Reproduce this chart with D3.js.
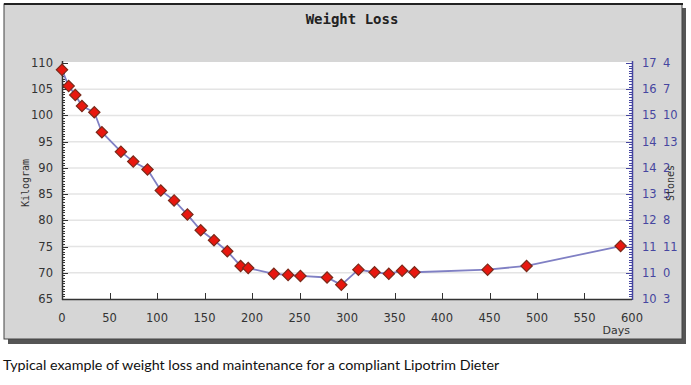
<!DOCTYPE html>
<html><head><meta charset="utf-8">
<script src="https://cdn.jsdelivr.net/npm/d3@7"></script>
<style>body{margin:0;background:#fff;} svg{display:block;}</style>
</head><body>
<svg id="c" width="691" height="385"></svg>
<script>
const days = [0,7,14,21,34,42,62,75,90,104,118,132,146,160,174,188,196,223,238,251,279,294,312,329,344,358,371,448,489,588];
const kilos = [108.7,105.6,103.9,101.8,100.6,96.8,93.1,91.2,89.7,85.7,83.8,81.1,78.1,76.2,74.1,71.3,70.9,69.8,69.6,69.4,69.1,67.7,70.6,70.1,69.8,70.4,70.1,70.6,71.3,75.1];
const xTicks = [0,50,100,150,200,250,300,350,400,450,500,550,600];
const yTicks = [65,70,75,80,85,90,95,100,105,110];
const rightTickLabels = ["10 3","11 0","11 11","12 8","13 5","14 2","14 13","15 10","16 7","17 4"];
const title = "Weight Loss";
const caption = "Typical example of weight loss and maintenance for a compliant Lipotrim Dieter";

const svg = d3.select("#c");
const FONT = "'DejaVu Sans', Verdana, sans-serif";
// shadow and panel
svg.append("rect").attr("x",8).attr("y",8).attr("width",678).attr("height",336).attr("fill","#555");
svg.append("rect").attr("x",4).attr("y",4).attr("width",678).attr("height",335).attr("fill","#d6d6d6").attr("stroke","#444").attr("stroke-width",1);
svg.append("rect").attr("x",4).attr("y",3).attr("width",679).attr("height",2).attr("fill","#222");

const L=62,R=632,T=63,B=299;
const x = d3.scaleLinear().domain([0,600]).range([L,R]);
const y = d3.scaleLinear().domain([65,110]).range([B,T]);

svg.append("rect").attr("x",L).attr("y",T-1).attr("width",R-L).attr("height",B-T+1).attr("fill","#fff");
// gridlines
svg.append("g").selectAll("line").data(yTicks.slice(1,-1)).join("line")
  .attr("x1",L).attr("x2",R).attr("y1",d=>y(d)).attr("y2",d=>y(d))
  .attr("stroke","#e4e4e4").attr("stroke-width",1.5);

// title
svg.append("text").attr("x",352).attr("y",24).attr("text-anchor","middle")
  .attr("font-family","DejaVu Sans Mono").attr("font-weight","bold").attr("font-size",14).attr("fill","#222").text(title);

// left axis
const minor = d3.range(65,110.01,0.5);
const gl = svg.append("g");
gl.selectAll("line.mn").data(minor).join("line").attr("x1",L).attr("x2",d=>L+(d%5===0?6:3))
  .attr("y1",d=>Math.round(y(d))+0.5).attr("y2",d=>Math.round(y(d))+0.5).attr("stroke","#333");
gl.append("line").attr("x1",L+0.5).attr("x2",L+0.5).attr("y1",T-2).attr("y2",B+1).attr("stroke","#333").attr("stroke-width",1.5);
gl.selectAll("text").data(yTicks).join("text").attr("x",L-9).attr("y",d=>y(d)+4).attr("text-anchor","end")
  .attr("font-family",FONT).attr("font-size",11.5).attr("fill","#333").text(d=>d);
svg.append("text").attr("transform","translate(29,183) rotate(-90)").attr("text-anchor","middle")
  .attr("font-family","DejaVu Sans Mono").attr("font-size",10).attr("fill","#333").text("Kilogram");

// right axis
const gr = svg.append("g");
gr.selectAll("line").data(minor).join("line").attr("x1",R).attr("x2",d=>R-(d%5===0?6:3))
  .attr("y1",d=>Math.round(y(d))+0.5).attr("y2",d=>Math.round(y(d))+0.5).attr("stroke","#4646a0");
gr.append("line").attr("x1",R+0.5).attr("x2",R+0.5).attr("y1",T-2).attr("y2",B+1).attr("stroke","#4646a0").attr("stroke-width",1.5);
const rl = gr.selectAll("g.rl").data(yTicks).join("g").attr("class","rl");
rl.append("text").attr("x",R+10).attr("y",d=>y(d)+4)
  .attr("font-family",FONT).attr("font-size",11.5).attr("fill","#4646a0").text((d,i)=>rightTickLabels[i].split(" ")[0]);
rl.append("text").attr("x",R+31).attr("y",d=>y(d)+4)
  .attr("font-family",FONT).attr("font-size",11.5).attr("fill","#4646a0").text((d,i)=>rightTickLabels[i].split(" ")[1]);
svg.append("text").attr("transform","translate(674,183) rotate(-90)").attr("text-anchor","middle")
  .attr("font-family","DejaVu Sans Mono").attr("font-size",10).attr("fill","#333").text("Stones");

// bottom axis
const gb = svg.append("g");
gb.append("line").attr("x1",L).attr("x2",R).attr("y1",B+0.5).attr("y2",B+0.5).attr("stroke","#333").attr("stroke-width",1.5);
gb.selectAll("line.t").data(xTicks.slice(1,-1)).join("line").attr("class","t")
  .attr("x1",d=>Math.round(x(d))+0.5).attr("x2",d=>Math.round(x(d))+0.5).attr("y1",B).attr("y2",B-6).attr("stroke","#333");
gb.selectAll("text").data(xTicks).join("text").attr("x",d=>x(d)).attr("y",B+23).attr("text-anchor","middle")
  .attr("font-family",FONT).attr("font-size",11.5).attr("fill","#333").text(d=>d);
svg.append("text").attr("x",630).attr("y",334).attr("text-anchor","end")
  .attr("font-family",FONT).attr("font-size",11).attr("fill","#333").text("Days");

// line + markers
const pts = days.map((d,i)=>[d,kilos[i]]);
svg.append("path").datum(pts).attr("fill","none").attr("stroke","#8080c4").attr("stroke-width",1.8)
  .attr("d",d3.line().x(d=>x(d[0])).y(d=>y(d[1])));
svg.append("g").selectAll("path").data(pts).join("path")
  .attr("transform",d=>`translate(${x(d[0])},${y(d[1])}) rotate(45)`)
  .attr("d",d3.symbol(d3.symbolSquare,64)())
  .attr("fill","#e8170f").attr("stroke","#7a2a1a").attr("stroke-width",1.2);

// caption
svg.append("text").attr("x",3).attr("y",370).attr("font-family","Lato").attr("font-size",14.3).attr("fill","#111").text(caption);
</script>
</body></html>
